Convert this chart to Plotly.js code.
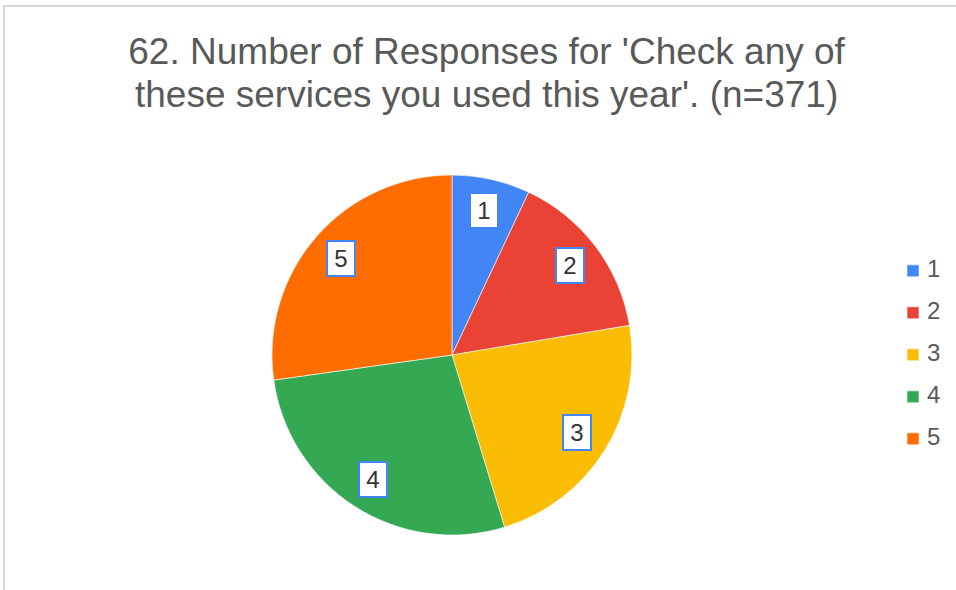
<!DOCTYPE html>
<html>
<head>
<meta charset="utf-8">
<script src="https://cdn.plot.ly/plotly-3.0.1.min.js"></script>
<style>
  html, body { margin: 0; padding: 0; background: #fff; }
  #wrap { position: relative; width: 956px; height: 590px; overflow: hidden; }
  #chart { position: absolute; left: 0; top: 0; width: 956px; height: 590px; }
  #frame { position: absolute; left: 3px; top: 5px; width: 980px; height: 620px;
           border-top: 2px solid #d9d9d9; border-left: 2px solid #d9d9d9; pointer-events: none; }
</style>
</head>
<body>
<div id="wrap">
  <div id="chart"></div>
  <div id="frame"></div>
</div>
<script>
const categories = ['1', '2', '3', '4', '5'];
const counts = [26, 57, 85, 102, 101];
const colors = ['#4285F4', '#EA4335', '#FBBC04', '#34A853', '#FF6D01'];
const titleText = "62. Number of Responses for 'Check any of<br>these services you used this year'. (n=371)";

// label boxes placed at the middle angle of each slice (clockwise from 12 o'clock)
const total = counts.reduce((a, b) => a + b, 0);
const labelRadius = 0.41; // in paper units (pie radius = 0.5)
let cum = 0;
const annotations = categories.map((c, i) => {
  const mid = (cum + counts[i] / 2) / total * 2 * Math.PI;
  cum += counts[i];
  return {
    xref: 'paper', yref: 'paper',
    x: 0.5 + labelRadius * Math.sin(mid),
    y: 0.5 + labelRadius * Math.cos(mid),
    text: c, showarrow: false,
    font: { family: 'Arial, Liberation Sans, sans-serif', size: 24, color: '#333333' },
    bgcolor: '#ffffff', bordercolor: '#4285F4', borderwidth: 2, borderpad: 1,
    width: 24, height: 31, xanchor: 'center', yanchor: 'middle'
  };
});

const trace = {
  type: 'pie',
  labels: categories,
  values: counts,
  sort: false,
  direction: 'clockwise',
  rotation: 0,
  textinfo: 'none',
  hoverinfo: 'label+value+percent',
  marker: { colors: colors, line: { color: '#ffffff', width: 0.6 } },
  showlegend: true
};

const layout = {
  width: 956, height: 590,
  margin: { l: 272, r: 324, t: 175, b: 55, autoexpand: false },
  paper_bgcolor: '#ffffff',
  font: { family: 'Arial, Liberation Sans, sans-serif', color: '#595959' },
  title: {
    text: titleText,
    x: 0.509, xref: 'container', xanchor: 'center',
    y: 1 - 64 / 590, yref: 'container', yanchor: 'middle',
    font: { family: 'Arial, Liberation Sans, sans-serif', size: 37, color: '#595959' }
  },
  legend: {
    x: 1.725, xanchor: 'left', y: 0.806, yanchor: 'top',
    font: { size: 30, color: '#595959' },
    bgcolor: 'rgba(0,0,0,0)'
  },
  annotations: annotations
};

Plotly.newPlot('chart', [trace], layout, { displayModeBar: false, staticPlot: true }).then(gd => {
  // legend: keep tall row spacing but draw the text at the reference size
  document.querySelectorAll('.legendtext').forEach(t => {
    t.style.fontSize = '24px';
    t.setAttribute('y', parseFloat(t.getAttribute('y') || 0) - 6);
    t.setAttribute('x', parseFloat(t.getAttribute('x') || 0) - 6);
  });
  // title: line spacing as in the reference
  document.querySelectorAll('.gtitle tspan.line').forEach((ts, i) => {
    if (i > 0) ts.setAttribute('dy', '43px');
  });
});
</script>
</body>
</html>
